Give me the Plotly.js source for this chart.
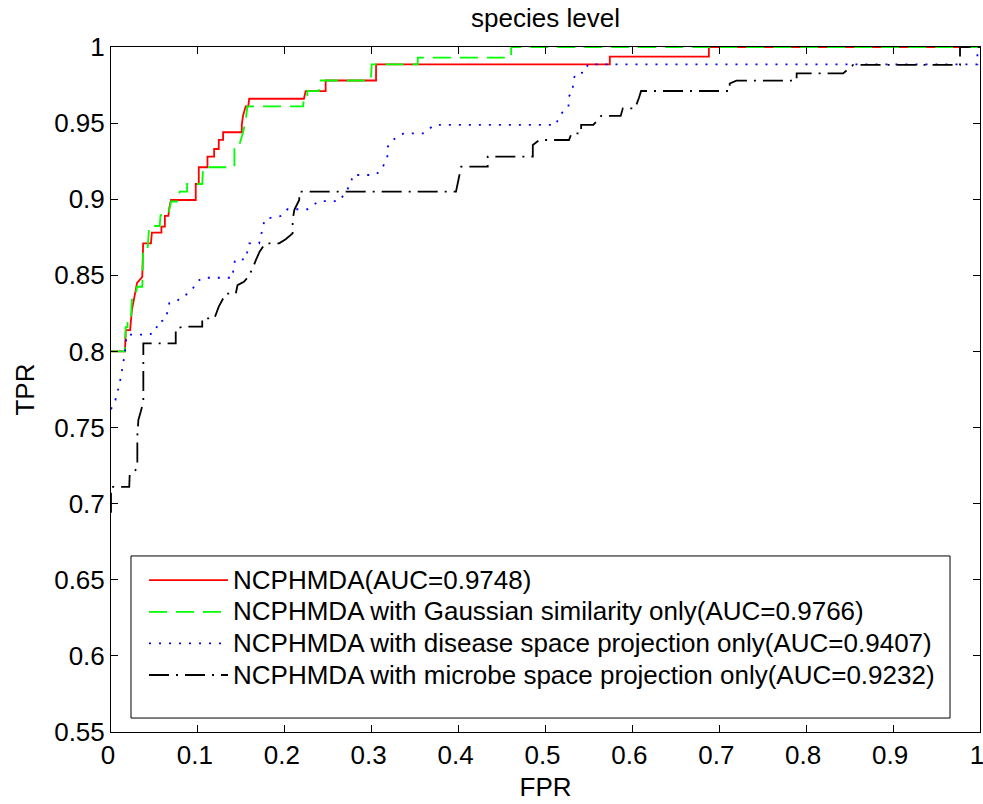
<!DOCTYPE html>
<html>
<head>
<meta charset="utf-8">
<script src="https://cdn.plot.ly/plotly-3.0.1.min.js"></script>
<style>html,body{margin:0;padding:0;background:#fff;}#chart{width:983px;height:804px;}</style>
</head>
<body>
<div id="chart"></div>
<script>
// ---- data ----
const seriesNames = [
  "NCPHMDA(AUC=0.9748)",
  "NCPHMDA with Gaussian similarity only(AUC=0.9766)",
  "NCPHMDA with disease space projection only(AUC=0.9407)",
  "NCPHMDA with microbe space projection only(AUC=0.9232)"
];

const fprMain = [0,0.016,0.017,0.022,0.024,0.026,0.030,0.036,0.037,0.046,0.047,0.058,0.058,0.062,0.062,0.066,0.067,0.069,0.0975,0.0975,0.101,0.101,0.111,0.111,0.1187,0.1187,0.124,0.124,0.129,0.129,0.1505,0.1505,0.152,0.155,0.158,0.159,0.222,0.224,0.247,0.247,0.305,0.305,0.574,0.574,0.688,0.688,1.0];
const tprMain = [0.80,0.80,0.814,0.814,0.827,0.834,0.845,0.849,0.871,0.871,0.878,0.878,0.882,0.882,0.889,0.889,0.894,0.8995,0.8995,0.910,0.910,0.921,0.921,0.928,0.928,0.933,0.933,0.939,0.939,0.944,0.944,0.949,0.955,0.961,0.961,0.966,0.966,0.971,0.971,0.978,0.978,0.9886,0.9886,0.9937,0.9937,1.0,1.0];

const fprGauss = [0,0.016,0.017,0.019,0.019,0.023,0.024,0.027,0.030,0.036,0.037,0.042,0.044,0.056,0.057,0.066,0.069,0.078,0.079,0.0875,0.0875,0.0975,0.105,0.106,0.142,0.142,0.147,0.152,0.155,0.157,0.221,0.222,0.226,0.226,0.239,0.240,0.299,0.300,0.353,0.353,0.4605,0.4605,1.0];
const tprGauss = [0.80,0.80,0.816,0.816,0.822,0.822,0.834,0.834,0.8425,0.8425,0.8666,0.8666,0.8824,0.8824,0.8896,0.8896,0.8985,0.8985,0.905,0.905,0.910,0.910,0.910,0.921,0.921,0.9345,0.9345,0.944,0.952,0.961,0.961,0.966,0.966,0.971,0.971,0.978,0.978,0.9886,0.9886,0.993,0.993,1.0,1.0];

const fprDisease = [0,0.005,0.010,0.014,0.016,0.018,0.044,0.0515,0.054,0.062,0.065,0.067,0.076,0.081,0.089,0.0949,0.099,0.106,0.140,0.141,0.143,0.155,0.157,0.159,0.1705,0.173,0.175,0.177,0.186,0.196,0.203,0.226,0.232,0.240,0.263,0.276,0.278,0.303,0.3107,0.318,0.318,0.323,0.337,0.360,0.372,0.512,0.5154,0.520,0.5265,0.5265,0.5315,0.5315,0.535,0.5449,0.5488,0.997,0.997,1.0];
const tprDisease = [0.762,0.768,0.779,0.792,0.799,0.811,0.811,0.813,0.8195,0.8205,0.826,0.8316,0.833,0.836,0.838,0.842,0.846,0.8484,0.8484,0.8557,0.8605,0.8605,0.8655,0.871,0.871,0.8765,0.882,0.887,0.888,0.889,0.8934,0.8934,0.896,0.8988,0.8988,0.910,0.9159,0.9159,0.9187,0.9275,0.934,0.9385,0.9433,0.9433,0.9488,0.9488,0.954,0.9575,0.9608,0.967,0.9717,0.9779,0.9827,0.9832,0.9886,0.9886,1.0,1.0];

const fprMicrobe = [0,0,0.021,0.0215,0.0276,0.0303,0.0303,0.0315,0.0342,0.0372,0.0372,0.0745,0.0745,0.084,0.105,0.105,0.119,0.124,0.132,0.1436,0.1456,0.153,0.158,0.163,0.1667,0.171,0.1774,0.1935,0.201,0.209,0.209,0.211,0.2166,0.2166,0.397,0.399,0.403,0.4335,0.4335,0.4854,0.4854,0.493,0.527,0.530,0.541,0.541,0.555,0.564,0.5865,0.589,0.603,0.6075,0.610,0.712,0.712,0.7197,0.789,0.789,0.8425,0.854,0.977,0.977,1.0];
const tprMicrobe = [0.694,0.711,0.711,0.7188,0.721,0.7254,0.7444,0.755,0.7604,0.767,0.8053,0.8053,0.8152,0.8163,0.8163,0.8217,0.8217,0.8294,0.838,0.838,0.8436,0.8458,0.849,0.8546,0.860,0.8655,0.871,0.871,0.8737,0.8776,0.8863,0.893,0.8995,0.905,0.905,0.910,0.9214,0.9214,0.928,0.928,0.9356,0.9389,0.9389,0.9433,0.9433,0.9488,0.9488,0.9547,0.9547,0.9597,0.9597,0.9665,0.9711,0.9711,0.976,0.9779,0.9779,0.9827,0.9827,0.9882,0.9882,1.0,1.0];

const xTickVals = [0,0.1,0.2,0.3,0.4,0.5,0.6,0.7,0.8,0.9,1];
const xTickText = ["0","0.1","0.2","0.3","0.4","0.5","0.6","0.7","0.8","0.9","1"];
const yTickVals = [0.55,0.6,0.65,0.7,0.75,0.8,0.85,0.9,0.95,1];
const yTickText = ["0.55","0.6","0.65","0.7","0.75","0.8","0.85","0.9","0.95","1"];

// ---- chart ----
const FONT = "'Liberation Sans', Arial, Helvetica, sans-serif";
const lbl = s => '<span style="font-size:26px">' + s + '</span>';

const traces = [
  {x: fprMain, y: tprMain, name: lbl(seriesNames[0]), legendgroup: 'a',
   line: {color: '#ff0000', width: 1.8}},
  {x: fprGauss, y: tprGauss, name: lbl(seriesNames[1]), legendgroup: 'b',
   line: {color: '#00ff00', width: 1.8, dash: '18px,9px'}},
  {x: fprDisease, y: tprDisease, name: lbl(seriesNames[2]), legendgroup: 'c',
   line: {color: '#0000ff', width: 1.8, dash: '2px,8px'}},
  {x: fprMicrobe, y: tprMicrobe, name: lbl(seriesNames[3]), legendgroup: 'd',
   line: {color: '#000000', width: 1.8, dash: '20px,7px,2px,7px'}}
].map(t => Object.assign({type: 'scatter', mode: 'lines', hoverinfo: 'skip'}, t));

const axisCommon = {
  showgrid: false, zeroline: false, showline: true, linecolor: '#000', linewidth: 1,
  mirror: 'ticks', ticks: 'inside', ticklen: 7, tickwidth: 1, tickcolor: '#000',
  tickfont: {family: FONT, size: 26, color: '#000'}, tickmode: 'array',
  ticklabeloverflow: 'allow'
};

const layout = {
  width: 983, height: 804,
  paper_bgcolor: '#fff', plot_bgcolor: '#fff',
  margin: {l: 111, r: 3, t: 47, b: 72},
  font: {family: FONT, color: '#000'},
  title: {text: 'species level', font: {family: FONT, size: 26, color: '#000'},
          x: 0.5, xref: 'paper', y: 1 - 18/804, yref: 'container', yanchor: 'middle'},
  xaxis: Object.assign({}, axisCommon, {
    range: [0, 1], tickvals: xTickVals, ticktext: xTickText, ticklabelshift: -3,
    title: {text: 'FPR', font: {family: FONT, size: 26, color: '#000'}, standoff: 8}
  }),
  yaxis: Object.assign({}, axisCommon, {
    range: [0.55, 1], tickvals: yTickVals, ticktext: yTickText,
    title: {text: 'TPR', font: {family: FONT, size: 26, color: '#000'}, standoff: 12}
  }),
  showlegend: true,
  legend: {
    x: 0.038, y: 0.252, xanchor: 'left', yanchor: 'top',
    bgcolor: 'rgba(0,0,0,0)', borderwidth: 0,
    font: {family: FONT, size: 22, color: '#000'},
    itemwidth: 79, tracegroupgap: 0, traceorder: 'normal'
  },
  shapes: [{
    type: 'rect', xref: 'paper', yref: 'paper', layer: 'below',
    x0: 0.023, x1: 0.9655, y0: 0.0204, y1: 0.257,
    line: {color: '#000', width: 1}, fillcolor: '#fff'
  }]
};

Plotly.newPlot('chart', traces, layout, {staticPlot: true, displayModeBar: false});
</script>
</body>
</html>
